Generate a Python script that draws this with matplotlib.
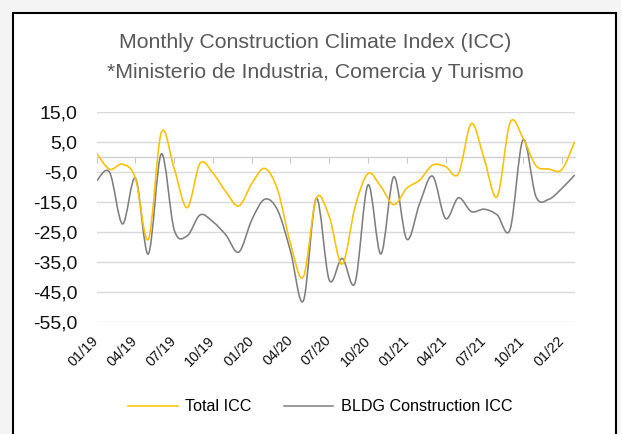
import numpy as np
import matplotlib
matplotlib.use("Agg")
import matplotlib.pyplot as plt
from matplotlib.path import Path
from matplotlib.patches import PathPatch, Rectangle
from matplotlib.lines import Line2D

plt.rcParams["font.family"] = ["Liberation Sans", "DejaVu Sans"]

# ---------------- data ----------------
months = ["01/19", "02/19", "03/19", "04/19", "05/19", "06/19", "07/19", "08/19",
          "09/19", "10/19", "11/19", "12/19", "01/20", "02/20", "03/20", "04/20",
          "05/20", "06/20", "07/20", "08/20", "09/20", "10/20", "11/20", "12/20",
          "01/21", "02/21", "03/21", "04/21", "05/21", "06/21", "07/21", "08/21",
          "09/21", "10/21", "11/21", "12/21", "01/22", "02/22"]

total_icc = [1.1, -4.2, -2.5, -7.2, -27.5, 8.1, -4.0, -17.0,
             -2.2, -5.5, -11.7, -16.4, -9.0, -3.9, -11.0, -29.0,
             -40.0, -13.9, -20.0, -35.8, -16.7, -5.6, -10.0, -16.0,
             -10.5, -7.8, -2.8, -3.3, -5.7, 11.0, -0.8, -13.3,
             11.4, 6.2, -3.0, -4.1, -4.3, 5.0]

bldg_icc = [-8.0, -5.2, -22.4, -7.2, -32.4, 0.9, -24.4, -26.4,
            -19.4, -21.7, -26.1, -31.8, -21.1, -14.2, -17.8, -31.5,
            -48.0, -13.9, -41.1, -33.9, -42.0, -9.4, -32.4, -6.7,
            -27.5, -15.6, -6.5, -20.6, -13.7, -18.3, -17.5, -19.4,
            -24.2, 5.6, -13.3, -14.2, -10.6, -6.1]

yticks = [15, 5, -5, -15, -25, -35, -45, -55]
label_every = 3

title_1 = "Monthly Construction Climate Index (ICC)"
title_2 = "*Ministerio de Industria, Comercia y Turismo"

YELLOW = "#FFC000"
GREY = "#7F7F7F"


def smooth_path(x, y):
    # excel style smoothed line: cubic bezier through every point
    x = np.asarray(x, float)
    y = np.asarray(y, float)
    pts = np.column_stack([x, y])
    n = len(pts)
    verts = [pts[0]]
    codes = [Path.MOVETO]
    for i in range(n - 1):
        p0 = pts[max(i - 1, 0)]
        p1 = pts[i]
        p2 = pts[i + 1]
        p3 = pts[min(i + 2, n - 1)]
        c1 = p1 + (p2 - p0) / 6.0
        c2 = p2 - (p3 - p1) / 6.0
        verts += [c1, c2, p2]
        codes += [Path.CURVE4] * 3
    return Path(verts, codes)


fig = plt.figure(figsize=(6.21, 4.34), dpi=100, facecolor="#f4f4f4")

# chart frame
fig.patches.append(Rectangle((12.5 / 621, -0.05), (616 - 12.5) / 621, 1.05 - 12.5 / 434,
                             transform=fig.transFigure, facecolor="white",
                             edgecolor="black", linewidth=1.5, zorder=-10))

ax = fig.add_axes([96.7 / 621, 1 - 321.7 / 434, (574.7 - 96.7) / 621, (321.7 - 111.7) / 434])
ax.set_facecolor("none")
ax.set_zorder(2)

x = np.arange(len(months))
ax.add_patch(PathPatch(smooth_path(x, bldg_icc), facecolor="none", edgecolor=GREY,
                       linewidth=1.15, zorder=3))
ax.add_patch(PathPatch(smooth_path(x, total_icc), facecolor="none", edgecolor=YELLOW,
                       linewidth=1.15, zorder=4))

ax.set_xlim(0, len(months) - 1)
ax.set_ylim(-55, 15)

# y axis
ax.set_yticks(yticks)
ax.set_yticklabels([f"{v:.1f}".replace(".", ",") for v in yticks], fontsize=14, color="#111111")
ax.tick_params(axis="y", length=0, pad=14)
ax.grid(axis="y", color="#d9d9d9", linewidth=1.0)
ax.set_axisbelow(True)
for s in ["left", "right", "top"]:
    ax.spines[s].set_visible(False)

# horizontal axis crosses at zero, ticks only
tick_pos = x[::label_every]
ax.spines["bottom"].set_position(("data", 0))
ax.spines["bottom"].set_color("#d0d0d0")
ax.spines["bottom"].set_linewidth(1.0)
ax.set_xticks(tick_pos)
ax.tick_params(axis="x", direction="out", length=4, width=0.8, color="#c8c8c8", labelbottom=False)

# labels sit at the bottom of the plot area
sec = ax.secondary_xaxis("bottom")
sec.set_xticks(tick_pos)
sec.set_xticklabels([months[i] for i in tick_pos], rotation=45, ha="right", va="center",
                    rotation_mode="anchor", fontsize=10.4, color="#111111")
sec.tick_params(axis="x", length=0, pad=12)
sec.spines["bottom"].set_visible(False)

# titles
fig.text(315 / 621, 1 - 43 / 434, title_1, ha="center", va="center",
         fontsize=15.3, color="#595959")
fig.text(315.5 / 621, 1 - 72 / 434, title_2, ha="center", va="center",
         fontsize=15.3, color="#595959")

handles = [Line2D([], [], color=YELLOW, linewidth=1.1),
           Line2D([], [], color=GREY, linewidth=1.1)]
fig.legend(handles, ["Total ICC", "BLDG Construction ICC"], loc="center",
           bbox_to_anchor=(320 / 621, 1 - 406.7 / 434), ncol=2, frameon=False,
           fontsize=11.6, handlelength=3.1, handletextpad=0.45, columnspacing=2.0)

fig.savefig("out.png", dpi=100, facecolor=fig.get_facecolor())
